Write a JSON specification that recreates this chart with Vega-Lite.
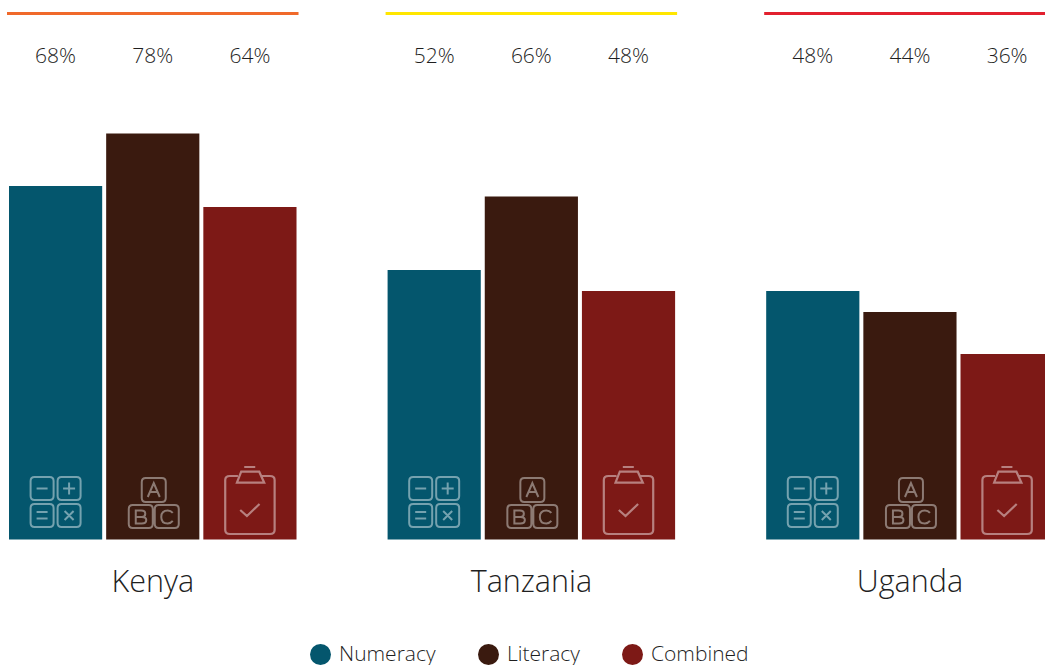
{"$schema":"https://vega.github.io/schema/vega-lite/v6.json","width":1045,"height":665,"autosize":"none","padding":0,"background":"white","config":{"view":{"stroke":null},"font":"Open Sans"},
"datasets":{"scores":[
{"country":"Kenya","measure":"Numeracy","value":0.68},{"country":"Kenya","measure":"Literacy","value":0.78},{"country":"Kenya","measure":"Combined","value":0.64},
{"country":"Tanzania","measure":"Numeracy","value":0.52},{"country":"Tanzania","measure":"Literacy","value":0.66},{"country":"Tanzania","measure":"Combined","value":0.48},
{"country":"Uganda","measure":"Numeracy","value":0.48},{"country":"Uganda","measure":"Literacy","value":0.44},{"country":"Uganda","measure":"Combined","value":0.36}],
"countries":[{"country":"Kenya"},{"country":"Tanzania"},{"country":"Uganda"}]},
"encoding":{
"x":{"field":"country","type":"nominal","axis":null,"sort":["Kenya","Tanzania","Uganda"],"scale":{"domain":["Kenya","Tanzania","Uganda"],"range":[7,1055.7],"paddingInner":0.23,"paddingOuter":0}}
},
"layer":[
{"data":{"name":"scores"},"mark":{"type":"bar"},"encoding":{
"xOffset":{"field":"measure","type":"nominal","sort":["Numeracy","Literacy","Combined"],"scale":{"domain":["Numeracy","Literacy","Combined"],"paddingInner":0.041,"paddingOuter":0.0206}},
"y":{"field":"value","type":"quantitative","axis":null,"scale":{"domain":[-0.2324,1.0343],"nice":false,"zero":false}},
"y2":{"datum":0.0067},
"color":{"field":"measure","type":"nominal","sort":["Numeracy","Literacy","Combined"],"scale":{"domain":["Numeracy","Literacy","Combined"],"range":["#04566D","#3A1A0F","#7D1916"]},"legend":{"title":null,"orient":"none","legendX":310,"legendY":644,"direction":"horizontal","symbolType":"circle","symbolSize":441,"symbolStrokeWidth":0,"symbolOpacity":1,"labelFont":"Open Sans","labelFontWeight":300,"labelFontSize":21,"labelColor":"#1f1f1f","labelOffset":8,"columnPadding":42,"columns":3}}
}},
{"data":{"name":"countries"},"mark":{"type":"bar"},"encoding":{
"y":{"datum":1.0114,"type":"quantitative"},"y2":{"datum":1.0057},
"color":{"field":"country","type":"nominal","scale":{"domain":["Kenya","Tanzania","Uganda"],"range":["#F0692A","#FFE600","#E2202E"]},"legend":null}
}},
{"data":{"name":"scores"},"mark":{"type":"text","font":"Open Sans","fontWeight":300,"fontSize":21,"color":"#1f1f1f","baseline":"middle"},"encoding":{
"xOffset":{"field":"measure","type":"nominal","sort":["Numeracy","Literacy","Combined"]},
"y":{"datum":0.9248,"type":"quantitative"},
"text":{"field":"value","type":"quantitative","format":".0%"}
}},
{"data":{"name":"countries"},"mark":{"type":"text","font":"Open Sans","fontWeight":300,"fontSize":30.5,"color":"#1f1f1f","baseline":"middle"},"encoding":{
"y":{"datum":-0.0762,"type":"quantitative"},
"text":{"field":"country","type":"nominal"}
}},
{"data":{"name":"scores"},"transform":[{"filter":"datum.measure === 'Numeracy'"}],"mark":{"type":"point","filled":false,"opacity":1,"stroke":"#ffffff","strokeOpacity":0.45,"strokeWidth":2,"size":4,"shape":"M-21-25H-6Q-2-25-2-21V-6Q-2-2-6-2H-21Q-25-2-25-6V-21Q-25-25-21-25ZM6-25H21Q25-25 25-21V-6Q25-2 21-2H6Q2-2 2-6V-21Q2-25 6-25ZM-21 2H-6Q-2 2-2 6V21Q-2 25-6 25H-21Q-25 25-25 21V6Q-25 2-21 2ZM6 2H21Q25 2 25 6V21Q25 25 21 25H6Q2 25 2 21V6Q2 2 6 2ZM-19-13.5H-8M7.5-13.5H19.5M13.5-19.5V-7.5M-19 10H-8M-19 16.5H-8M9 9L18 18M18 9L9 18"},"encoding":{
"xOffset":{"field":"measure","type":"nominal","sort":["Numeracy","Literacy","Combined"]},
"y":{"datum":0.0781,"type":"quantitative"}
}},
{"data":{"name":"scores"},"transform":[{"filter":"datum.measure === 'Literacy'"}],"mark":{"type":"point","filled":false,"opacity":1,"stroke":"#ffffff","strokeOpacity":0.42,"strokeWidth":2,"size":4,"shape":"M-7-25H9Q13-25 13-21V-5Q13-1 9-1H-7Q-11-1-11-5V-21Q-11-25-7-25ZM-20 2H-4Q0 2 0 6V21Q0 25-4 25H-20Q-24 25-24 21V6Q-24 2-20 2ZM6 2H22Q26 2 26 6V21Q26 25 22 25H6Q2 25 2 21V6Q2 2 6 2ZM-5-6L1-20L7-6M-3-11H5M-17 14V20.5H-11Q-6.5 20.5-6.5 17Q-6.5 14-11 14H-17V7.5H-11.5Q-7.5 7.5-7.5 10.7Q-7.5 14-11 14M20 10Q18 7.5 15 7.5Q8.5 7.5 8.5 14Q8.5 20.5 15 20.5Q18 20.5 20 18"},"encoding":{
"xOffset":{"field":"measure","type":"nominal","sort":["Numeracy","Literacy","Combined"]},
"y":{"datum":0.0762,"type":"quantitative"}
}},
{"data":{"name":"scores"},"transform":[{"filter":"datum.measure === 'Combined'"}],"mark":{"type":"point","filled":false,"opacity":1,"stroke":"#ffffff","strokeOpacity":0.45,"strokeWidth":2.2,"size":4,"shape":"M-12-24H-20Q-24.7-24-24.7-20V30Q-24.7 34-20 34H20Q24.7 34 24.7 30V-20Q24.7-24 20-24H12M-13-17.3L-8.7-28.3H9.3L14.3-17.3ZM-5.7-33H5.3M-9.7 10L-3 16L9.6 4"},"encoding":{
"xOffset":{"field":"measure","type":"nominal","sort":["Numeracy","Literacy","Combined"]},
"y":{"datum":0.0819,"type":"quantitative"}
}}
],
"resolve":{"scale":{"color":"independent"}}}
